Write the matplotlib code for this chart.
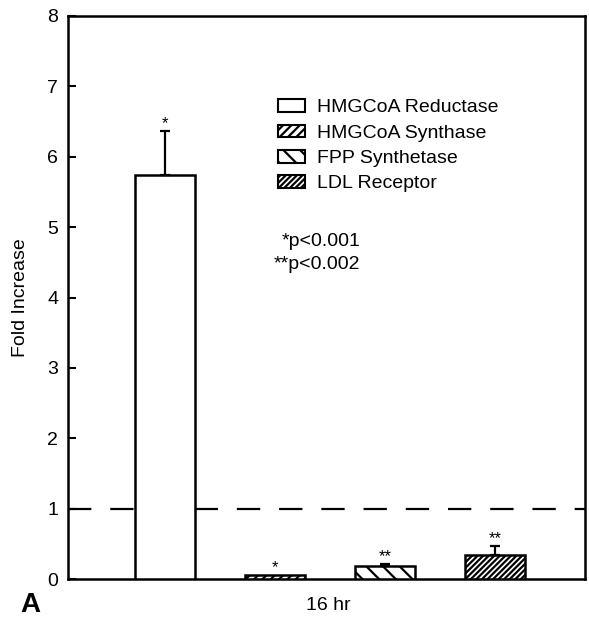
import matplotlib.pyplot as plt
from matplotlib.patches import Patch

plt.rcParams['font.family'] = ['Liberation Sans', 'DejaVu Sans']
plt.rcParams['hatch.linewidth'] = 1.6

# data
genes = ["HMGCoA Reductase", "HMGCoA Synthase", "FPP Synthetase", "LDL Receptor"]
fold = [5.74, 0.06, 0.18, 0.34]
err = [0.62, 0.0, 0.03, 0.13]
stars = ["*", "*", "**", "**"]
hatches = ["", "////", "\\\\", "//////"]
positions = [1, 2, 3, 4]
yticks = [0, 1, 2, 3, 4, 5, 6, 7, 8]

fig = plt.figure(figsize=(5.89, 6.17), dpi=100)
ax = fig.add_axes([68 / 589, 1 - 579 / 617, 517 / 589, 563 / 617])

for x, v, e, h in zip(positions, fold, err, hatches):
    ax.bar(x, v, width=0.55, color="white", edgecolor="black",
           linewidth=1.8, hatch=h, zorder=3)
    if e > 0:
        ax.errorbar(x, v, yerr=[[0], [e]], color="black", elinewidth=1.6,
                    capsize=3.3, capthick=1.6, zorder=4)

for x, v, e, s in zip(positions, fold, err, stars):
    ax.text(x, v + e + 0.0, s, ha="center", va="bottom", fontsize=12)

# baseline at 1-fold
ax.axhline(1.0, color="black", linewidth=1.6, dashes=(10.5, 8.5), zorder=2)

ax.set_xlim(0.12, 4.82)
ax.set_ylim(0, 8)
ax.set_yticks(yticks)
ax.set_xticks([])
ax.tick_params(axis="y", direction="in", length=6, width=1.5,
               labelsize=14, pad=7)
for sp in ax.spines.values():
    sp.set_linewidth(1.8)

ax.set_ylabel("Fold Increase", fontsize=14, labelpad=13)

handles = [Patch(facecolor="white", edgecolor="black", hatch=h, linewidth=1.5)
           for h in hatches]
ax.legend(handles, genes, loc="upper left", bbox_to_anchor=(0.406, 0.852),
          frameon=False, fontsize=14, handlelength=1.4, handleheight=0.62,
          handletextpad=0.62, labelspacing=0.42, borderpad=0, borderaxespad=0)

ax.text(0.565, 0.600, "*p<0.001", transform=ax.transAxes, fontsize=14,
        ha="right", va="center")
ax.text(0.565, 0.5595, "**p<0.002", transform=ax.transAxes, fontsize=14,
        ha="right", va="center")

fig.text(328 / 589, 1 - 605 / 617, "16 hr", fontsize=14, ha="center", va="center")
fig.text(30 / 589, 1 - 605 / 617, "A", fontsize=20, fontweight="bold",
         ha="center", va="center")

fig.savefig("out.png", dpi=100)
